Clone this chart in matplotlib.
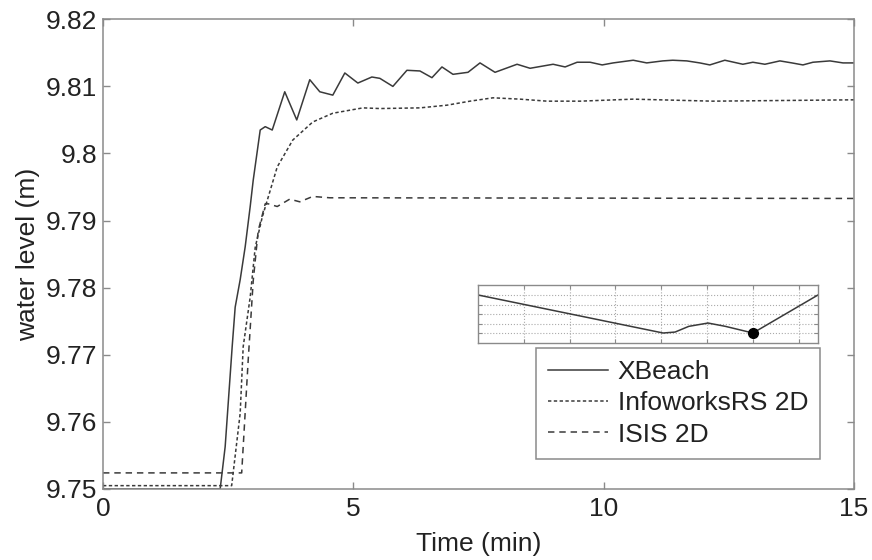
import numpy as np
import matplotlib
matplotlib.use("Agg")
import matplotlib.pyplot as plt

plt.rcParams['font.family'] = ['Liberation Sans', 'DejaVu Sans']

# ---------------- DATA ----------------
xbeach_t = [0, 2.34, 2.44, 2.58, 2.64, 2.74, 2.84, 2.94, 3.0, 3.14, 3.24, 3.38, 3.63, 3.87,
            4.13, 4.33, 4.59, 4.83, 5.09, 5.37, 5.53, 5.79, 6.07, 6.33, 6.57, 6.77, 6.99,
            7.29, 7.53, 7.83, 8.27, 8.53, 8.99, 9.23, 9.47, 9.73, 9.97, 10.19, 10.59, 10.86,
            11.18, 11.38, 11.66, 11.92, 12.12, 12.42, 12.78, 12.98, 13.22, 13.52, 13.76,
            13.98, 14.18, 14.52, 14.78, 15.0]
xbeach_h = [9.75, 9.75, 9.7563, 9.7712, 9.7771, 9.7812, 9.7861, 9.7921, 9.796, 9.8035, 9.804,
            9.8035, 9.8092, 9.805, 9.811, 9.8092, 9.8087, 9.812, 9.8105, 9.8114, 9.8112, 9.810,
            9.8124, 9.8123, 9.8113, 9.8129, 9.8118, 9.8121, 9.8135, 9.8121, 9.8133, 9.8127,
            9.8133, 9.8129, 9.8136, 9.8136, 9.8132, 9.8135, 9.8139, 9.8135, 9.8138, 9.8139,
            9.8138, 9.8135, 9.8132, 9.8139, 9.8133, 9.8136, 9.8133, 9.8138, 9.8135, 9.8132,
            9.8136, 9.8138, 9.8135, 9.8135]

infoworks_t = [0, 2.57, 2.74, 2.80, 2.94, 3.04, 3.18, 3.30, 3.48, 3.79, 4.19, 4.59, 5.19,
               5.53, 6.33, 6.87, 7.33, 7.79, 8.33, 8.87, 9.53, 10.59, 12.18, 15.0]
infoworks_h = [9.7505, 9.7505, 9.7613, 9.7712, 9.7786, 9.786, 9.7905, 9.7935, 9.798, 9.802,
               9.8047, 9.806, 9.8068, 9.8067, 9.8068, 9.8072, 9.8078, 9.8083, 9.8081, 9.8078,
               9.8078, 9.8081, 9.8078, 9.808]

isis_t = [0, 2.77, 2.9, 3.0, 3.1, 3.24, 3.3, 3.48, 3.73, 3.93, 4.19, 4.53, 15.0]
isis_h = [9.7524, 9.7524, 9.7692, 9.781, 9.7885, 9.7925, 9.7925, 9.7921, 9.7932, 9.7928,
          9.7936, 9.7934, 9.7933]

series_labels = ["XBeach", "InfoworksRS 2D", "ISIS 2D"]

x_ticks = [0, 5, 10, 15]
y_ticks = [9.75, 9.76, 9.77, 9.78, 9.79, 9.80, 9.81, 9.82]
y_tick_labels = ["9.75", "9.76", "9.77", "9.78", "9.79", "9.8", "9.81", "9.82"]

# inset (location sketch)
inset_x = [0, 4.04, 4.3, 4.6, 5.02, 5.4, 6.0, 7.42]
inset_y = [5.05, 1.05, 1.15, 1.75, 2.1, 1.75, 1.05, 5.05]
inset_dot = (6.0, 1.05)

# ---------------- PLOT ----------------
GREY = "#8a8a8a"
LINE = "#3a3a3a"
TXT = "#222222"
FS = 19

fig = plt.figure(figsize=(8.72, 5.6), dpi=100)
ax = fig.add_axes([103/872, 1 - 489/560, 751/872, 469.7/560])

ax.plot(xbeach_t, xbeach_h, color=LINE, lw=1.1, linestyle='-', label=series_labels[0])
ax.plot(infoworks_t, infoworks_h, color=LINE, lw=1.1, linestyle=(0, (2.2, 1.6)), label=series_labels[1])
ax.plot(isis_t, isis_h, color=LINE, lw=1.1, linestyle=(0, (4.2, 3.2)), label=series_labels[2])

ax.set_xlim(0, 15)
ax.set_ylim(9.75, 9.82)
ax.set_xticks(x_ticks)
ax.set_yticks(y_ticks)
ax.set_yticklabels(y_tick_labels)
ax.tick_params(direction='in', length=5, width=1, color=GREY, labelsize=FS,
               labelcolor=TXT, top=True, right=True)
ax.tick_params(axis='x', pad=6)
ax.tick_params(axis='y', pad=4)
for s in ax.spines.values():
    s.set_color(GREY)
    s.set_linewidth(1.1)
ax.set_xlabel("Time (min)", fontsize=FS, color=TXT, labelpad=8)
ax.set_ylabel("water level (m)", fontsize=FS, color=TXT, labelpad=4)

leg = ax.legend(loc='upper right', bbox_to_anchor=((820-103)/751, (489-348)/469.7),
                borderaxespad=0, fancybox=False, framealpha=1, edgecolor=GREY,
                fontsize=FS, handlelength=2.3, handletextpad=0.35, labelspacing=0.28,
                borderpad=0.45)
leg.get_frame().set_linewidth(1.1)
for t in leg.get_texts():
    t.set_color(TXT)

# inset axes
ins = fig.add_axes([478/872, 1 - 343/560, 340/872, 58/560])
ins.plot(inset_x, inset_y, color=LINE, lw=1.1)
ins.plot([inset_dot[0]], [inset_dot[1]], 'o', color='black', ms=7)
ins.set_xlim(0, 7.42)
ins.set_ylim(0, 6.1)
ins.set_xticks([1, 2, 3, 4, 5, 6, 7])
ins.set_yticks([1, 2, 3, 4, 5])
ins.grid(True, color="#aaaaaa", linestyle=':', lw=0.8)
ins.tick_params(direction='in', length=3, color=GREY, labelbottom=False, labelleft=False,
                top=True, right=True)
for s in ins.spines.values():
    s.set_color(GREY)
    s.set_linewidth(1.0)

fig.savefig("out.png", dpi=100)
